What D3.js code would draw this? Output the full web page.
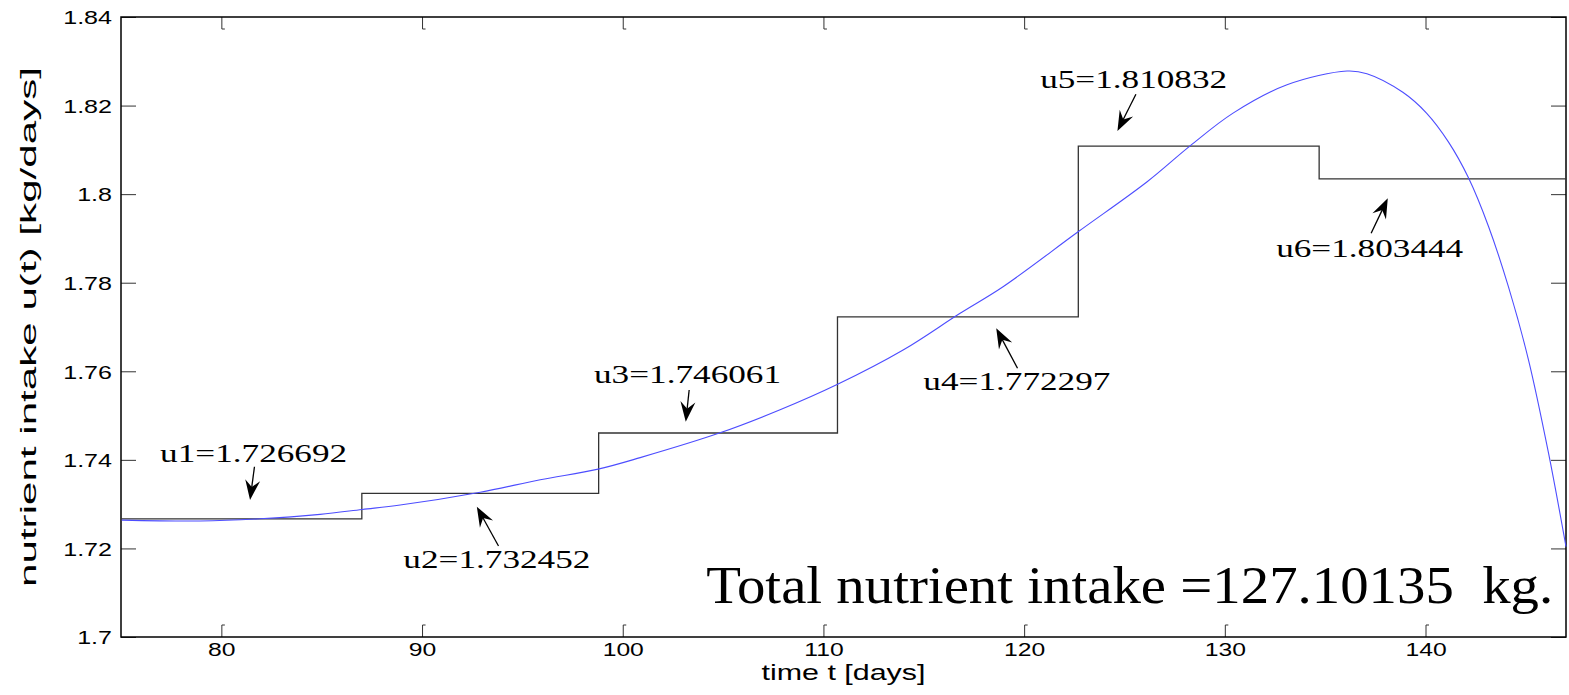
<!DOCTYPE html>
<html>
<head>
<meta charset="utf-8">
<script src="https://cdn.jsdelivr.net/npm/d3@7"></script>
<style>
  body { margin: 0; background: #fff; }
  svg { display: block; }
  .tick text { font-family: "Liberation Sans", Arial, sans-serif; fill: #000; }
  .note { font-family: "Liberation Serif", "Times New Roman", serif; fill: #000; white-space: pre; }
</style>
</head>
<body>
<div id="chart"></div>
<script>
// 曲线数据：时间与摄入量
const tDays = [75.04, 78.94, 81.93, 84.92, 87.02, 88.91, 92.90, 95.89, 98.77, 100.87,
  104.85, 107.84, 110.68, 113.97, 116.81, 118.95, 122.69, 126.13, 128.27, 130.41,
  133.10, 136.09, 137.08, 138.87, 140.05, 141.14, 142.14, 143.14, 144.13, 145.13, 146.13, 147.0];
const intake = [1.7264, 1.7262, 1.7267, 1.7277, 1.7288, 1.7298, 1.7327, 1.7355, 1.7379, 1.7405,
  1.7461, 1.7513, 1.7570, 1.7648, 1.7731, 1.7791, 1.7915, 1.8028, 1.8109, 1.8183,
  1.8247, 1.8278, 1.8272, 1.8230, 1.8183, 1.8118, 1.8037, 1.7927, 1.7791, 1.7626, 1.7415, 1.7204];

// 分段常数控制
const stageStart = [75, 87, 98.8, 110.7, 122.7, 134.7, 147];
const stageU = [1.726692, 1.732452, 1.746061, 1.772297, 1.810832, 1.803444];
const stageNames = ["u1", "u2", "u3", "u4", "u5", "u6"];

// 标注位置（数据坐标）：文字左下角、箭头尾、箭头尖
const labelT = [76.95, 89.07, 98.57, 114.98, 120.80, 132.56];
const labelV = [1.73952, 1.71551, 1.75742, 1.75577, 1.8239, 1.78587];
const tailT = [81.65, 93.81, 103.31, 119.67, 125.57, 137.29];
const tailV = [1.73845, 1.72055, 1.75577, 1.76067, 1.82255, 1.79116];
const tipT = [81.43, 92.73, 103.14, 118.61, 124.65, 138.12];
const tipV = [1.73094, 1.72942, 1.74862, 1.76971, 1.81426, 1.79906];

const xTicks = [80, 90, 100, 110, 120, 130, 140];
const yTicks = [1.7, 1.72, 1.74, 1.76, 1.78, 1.8, 1.82, 1.84];
const totalText = "Total nutrient intake =127.10135  kg.";
const totalT = 104.16, totalV = 1.70761;

const width = 1569, height = 695;
const margin = { left: 121, right: 3, top: 17, bottom: 58 };

const svg = d3.select("#chart").append("svg")
  .attr("width", width).attr("height", height);

const x = d3.scaleLinear().domain([75, 147]).range([margin.left, width - margin.right]);
const y = d3.scaleLinear().domain([1.7, 1.84]).range([height - margin.bottom, margin.top]);

// 文字横向拉伸
function stretch(sel, k) {
  sel.each(function () {
    const len = this.getComputedTextLength();
    d3.select(this).attr("textLength", len * k).attr("lengthAdjust", "spacingAndGlyphs");
  });
}

// 坐标轴
const fmt = d => String(+d.toFixed(2));
const gx = svg.append("g").attr("transform", `translate(0,${y.range()[0]})`)
  .call(d3.axisBottom(x).tickValues(xTicks).tickSizeInner(-12).tickSizeOuter(0).tickPadding(6));
const gxt = svg.append("g").attr("transform", `translate(0,${y.range()[1]})`)
  .call(d3.axisTop(x).tickValues(xTicks).tickSizeInner(-12).tickSizeOuter(0).tickFormat(""));
const gy = svg.append("g").attr("transform", `translate(${x.range()[0]},0)`)
  .call(d3.axisLeft(y).tickValues(yTicks).tickFormat(fmt).tickSizeInner(-15).tickSizeOuter(0).tickPadding(9));
const gyr = svg.append("g").attr("transform", `translate(${x.range()[1]},0)`)
  .call(d3.axisRight(y).tickValues(yTicks).tickSizeInner(-15).tickSizeOuter(0).tickFormat(""));

[gx, gxt, gy, gyr].forEach(g => {
  g.select(".domain").remove();
  g.selectAll(".tick line").attr("stroke", "#333").attr("stroke-width", 1);
});
// 刻度的小钩
gx.selectAll(".tick").append("line").attr("x1", 0).attr("x2", 3).attr("y1", -12).attr("y2", -12).attr("stroke", "#333");
gxt.selectAll(".tick").append("line").attr("x1", 0).attr("x2", 3).attr("y1", 12).attr("y2", 12).attr("stroke", "#333");

gx.selectAll(".tick text").attr("font-size", 19).call(stretch, 1.3);
gy.selectAll(".tick text").attr("font-size", 19).attr("dy", "0.36em").call(stretch, 1.32);

// 边框
svg.append("rect")
  .attr("x", x.range()[0]).attr("y", y.range()[1])
  .attr("width", x.range()[1] - x.range()[0]).attr("height", y.range()[0] - y.range()[1])
  .attr("fill", "none").attr("stroke", "#000").attr("stroke-width", 1.5);

// 阶梯线
const steps = stageStart.map((t, i) => [t, stageU[Math.min(i, stageU.length - 1)]]);
svg.append("path")
  .datum(steps)
  .attr("d", d3.line().x(d => x(d[0])).y(d => y(d[1])).curve(d3.curveStepAfter))
  .attr("fill", "none").attr("stroke", "#333").attr("stroke-width", 1.3);

// 蓝色曲线
svg.append("path")
  .datum(tDays.map((t, i) => [t, intake[i]]))
  .attr("d", d3.line().x(d => x(d[0])).y(d => y(d[1])).curve(d3.curveCatmullRom.alpha(0.5)))
  .attr("fill", "none").attr("stroke", "#4d4dff").attr("stroke-width", 1.1);

// 标注文字
svg.selectAll("text.ulabel")
  .data(stageNames)
  .enter().append("text")
  .attr("class", "note ulabel")
  .attr("x", (d, i) => x(labelT[i]))
  .attr("y", (d, i) => y(labelV[i]))
  .attr("font-size", 26)
  .attr("textLength", 187).attr("lengthAdjust", "spacingAndGlyphs")
  .text((d, i) => `${d}=${stageU[i].toFixed(6)}`);

// 箭头
const headL = 20, headW = 15;
stageNames.forEach((d, i) => {
  const x0 = x(tailT[i]), y0 = y(tailV[i]);
  const x1 = x(tipT[i]), y1 = y(tipV[i]);
  const a = Math.atan2(y1 - y0, x1 - x0);
  const g = svg.append("g").attr("transform", `translate(${x1},${y1}) rotate(${a * 180 / Math.PI})`);
  const len = Math.hypot(x1 - x0, y1 - y0);
  g.append("line").attr("x1", -len).attr("y1", 0).attr("x2", -headL * 0.6).attr("y2", 0)
    .attr("stroke", "#000").attr("stroke-width", 1.3);
  g.append("path")
    .attr("d", `M0,0 L${-headL},${-headW / 2} L${-headL * 0.65},0 L${-headL},${headW / 2} Z`)
    .attr("fill", "#000");
});

// 总量文字
svg.append("text")
  .attr("class", "note")
  .attr("x", x(totalT)).attr("y", y(totalV))
  .attr("font-size", 53)
  .attr("textLength", 847).attr("lengthAdjust", "spacingAndGlyphs")
  .text(totalText);

// 轴标题
svg.append("text")
  .attr("x", (x.range()[0] + x.range()[1]) / 2).attr("y", 680)
  .attr("text-anchor", "middle")
  .attr("font-family", "Liberation Sans, Arial, sans-serif")
  .attr("font-size", 22)
  .attr("textLength", 164).attr("lengthAdjust", "spacingAndGlyphs")
  .text("time t [days]");

// y 轴标题：窄长字形
svg.append("text")
  .attr("transform", `translate(36,${(y.range()[0] + y.range()[1]) / 2}) scale(0.56,1) rotate(-90)`)
  .attr("text-anchor", "middle")
  .attr("font-family", "Liberation Sans, Arial, sans-serif")
  .attr("font-size", 41)
  .attr("textLength", 520).attr("lengthAdjust", "spacingAndGlyphs")
  .text("nutrient intake u(t) [kg/days]");
</script>
</body>
</html>
